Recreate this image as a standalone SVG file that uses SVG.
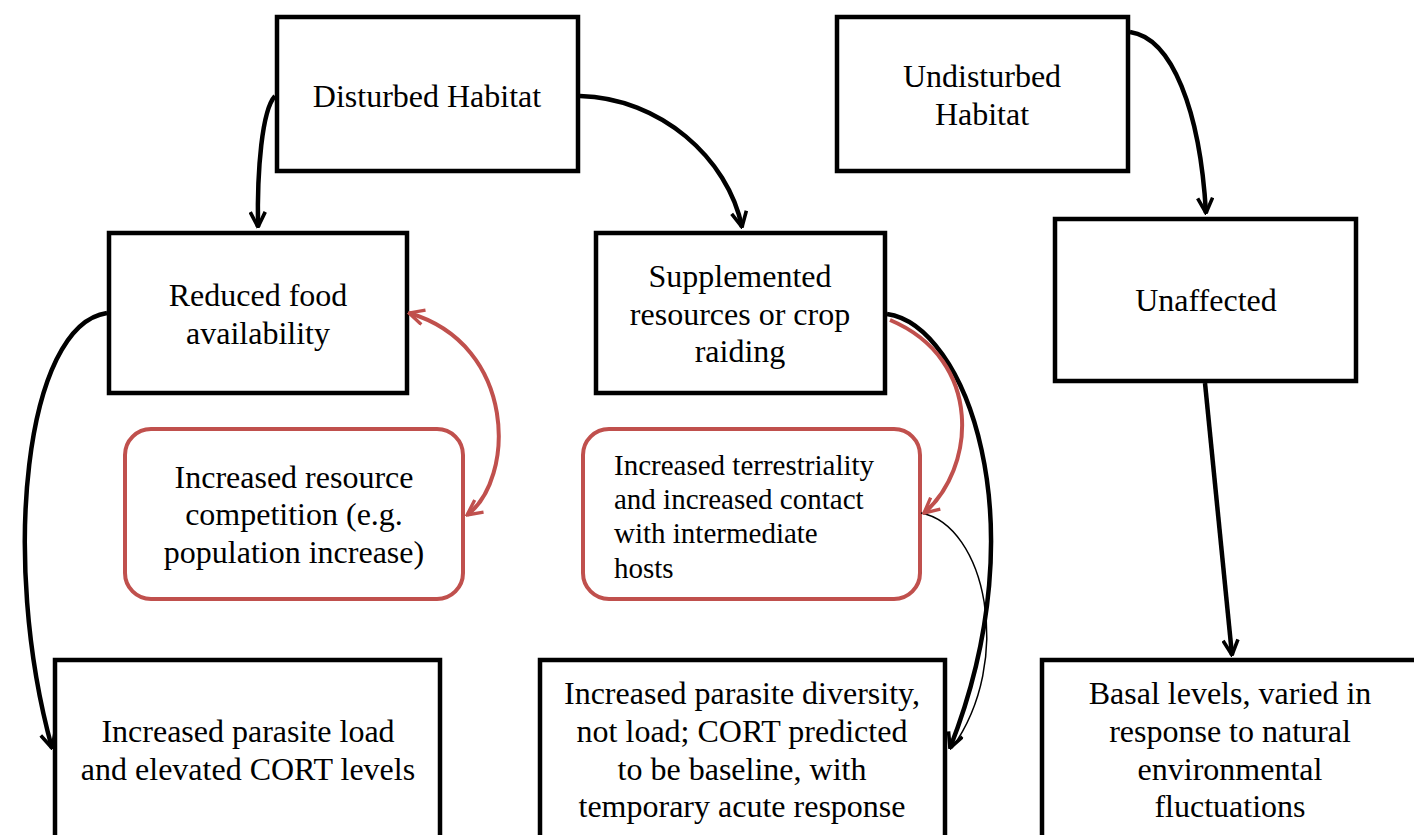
<svg xmlns="http://www.w3.org/2000/svg" width="1414" height="835" viewBox="0 0 1414 835">
<style>
.box{fill:#fff;stroke:#000;stroke-width:4.5}
.rbox{fill:#fff;stroke:#c0504d;stroke-width:4}
.t{font-family:"Liberation Serif","Times New Roman",serif;font-size:32px;fill:#000;text-anchor:middle}
.ts{font-family:"Liberation Serif","Times New Roman",serif;font-size:29px;fill:#000}
.c{fill:none;stroke:#000;stroke-width:4.5}
.cr{fill:none;stroke:#c0504d;stroke-width:4}
.thin{fill:none;stroke:#000;stroke-width:1.5}
</style>
<defs>
<marker id="ah" viewBox="0 0 12 12" refX="11" refY="6" markerWidth="18" markerHeight="18" markerUnits="userSpaceOnUse" orient="auto">
<path d="M1,1 L11,6 L1,11" fill="none" stroke="#000" stroke-width="2.4"/>
</marker>
<marker id="ahr" viewBox="0 0 12 12" refX="11" refY="6" markerWidth="18" markerHeight="18" markerUnits="userSpaceOnUse" orient="auto-start-reverse">
<path d="M1,1 L11,6 L1,11" fill="none" stroke="#c0504d" stroke-width="2.2"/>
</marker>
</defs>
<g id="n-disturbed"><rect class="box" x="277" y="17" width="301" height="154"/><text class="t" x="427" y="107">Disturbed Habitat</text></g>
<g id="n-undisturbed"><rect class="box" x="837" y="17" width="291" height="154"/><text class="t" x="982" y="87">Undisturbed</text><text class="t" x="982" y="125">Habitat</text></g>
<g id="n-reduced"><rect class="box" x="109" y="233" width="298" height="160"/><text class="t" x="258" y="306">Reduced food</text><text class="t" x="258" y="344">availability</text></g>
<g id="n-supplemented"><rect class="box" x="596" y="233" width="289" height="160"/><text class="t" x="740" y="287">Supplemented</text><text class="t" x="740" y="325">resources or crop</text><text class="t" x="740" y="362">raiding</text></g>
<g id="n-unaffected"><rect class="box" x="1055" y="219" width="301" height="162"/><text class="t" x="1206" y="311">Unaffected</text></g>
<g id="n-competition"><rect class="rbox" x="125" y="429" width="338" height="170" rx="26"/><text class="t" x="294" y="488">Increased resource</text><text class="t" x="294" y="525">competition (e.g.</text><text class="t" x="294" y="563">population increase)</text></g>
<g id="n-terrestriality"><rect class="rbox" x="583" y="429" width="337" height="170" rx="26"/><text class="ts" x="614" y="475">Increased terrestriality</text><text class="ts" x="614" y="509">and increased contact</text><text class="ts" x="614" y="543">with intermediate</text><text class="ts" x="614" y="578">hosts</text></g>
<g id="n-load"><rect class="box" x="55" y="660" width="385" height="190"/><text class="t" x="248" y="742">Increased parasite load</text><text class="t" x="248" y="780">and elevated CORT levels</text></g>
<g id="n-diversity"><rect class="box" x="540" y="660" width="405" height="190"/><text class="t" x="742" y="704">Increased parasite diversity,</text><text class="t" x="742" y="742">not load; CORT predicted</text><text class="t" x="742" y="780">to be baseline, with</text><text class="t" x="742" y="817">temporary acute response</text></g>
<g id="n-basal"><rect class="box" x="1042" y="660" width="390" height="190"/><text class="t" x="1230" y="704">Basal levels, varied in</text><text class="t" x="1230" y="742">response to natural</text><text class="t" x="1230" y="780">environmental</text><text class="t" x="1230" y="817">fluctuations</text></g>
<g id="connectors">
<path class="c" d="M275 96 C262 110 257 170 258 227" marker-end="url(#ah)"/>
<path class="c" d="M580 96 C660 98 728 158 742 227" marker-end="url(#ah)"/>
<path class="c" d="M1130 32 C1172 38 1200 110 1206 213" marker-end="url(#ah)"/>
<path class="c" d="M1205 383 L1232 655" marker-end="url(#ah)"/>
<path class="c" d="M107 313 C25 325 0 560 52 748" marker-end="url(#ah)"/>
<path class="c" d="M887 314 C965 325 1040 520 950 748" marker-end="url(#ah)"/>
<path class="thin" d="M921 513 C985 525 1015 660 952 748"/>
<path class="cr" d="M890 320 C985 360 975 470 924 513" marker-end="url(#ahr)"/>
<path class="cr" d="M467 515 C515 480 518 345 409 313" marker-start="url(#ahr)" marker-end="url(#ahr)"/>
</g>
</svg>
